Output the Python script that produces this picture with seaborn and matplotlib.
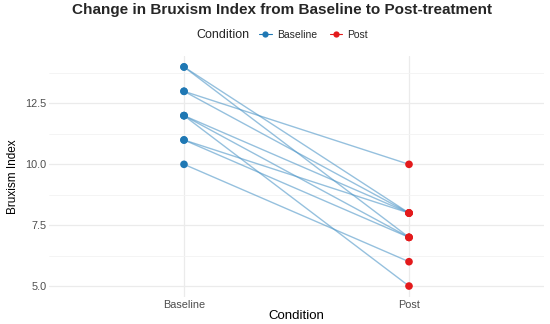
import numpy as np
import pandas as pd
import matplotlib
matplotlib.use("Agg")
import matplotlib.pyplot as plt
import seaborn as sns
from matplotlib.lines import Line2D
from matplotlib.ticker import MultipleLocator
from matplotlib.offsetbox import HPacker

conditions = ["Baseline", "Post"]
baseline = [14, 14, 13, 13, 12, 12, 12, 11, 11, 10]
post = [8, 7, 10, 8, 8, 7, 5, 8, 7, 6]
subjects = list(range(1, len(baseline) + 1))
yticks = [5.0, 7.5, 10.0, 12.5]
colors = {"Baseline": "#1f78b4", "Post": "#e31a1c"}

df = pd.DataFrame({
    "Subject": subjects * 2,
    "Condition": ["Baseline"] * len(baseline) + ["Post"] * len(post),
    "Index": baseline + post,
})

sns.set_theme(style="whitegrid")
plt.rcParams["font.family"] = ["Liberation Sans", "DejaVu Sans"]

fig = plt.figure(figsize=(5.5, 3.24), dpi=100)
ax = fig.add_axes([49/550, 27/324, (544-49)/550, (297-56)/324])

sns.lineplot(data=df, x="Condition", y="Index", units="Subject", estimator=None,
             color="#4f97c8", alpha=0.6, linewidth=1.0, ax=ax, legend=False)
sns.stripplot(data=df, x="Condition", y="Index", hue="Condition", palette=colors,
              jitter=False, size=5.5, linewidth=0, ax=ax, legend=False, zorder=3)

ax.set_xlim(-0.6, 1.6)
ax.set_ylim(4.55, 14.45)
ax.set_yticks(yticks)
ax.yaxis.set_minor_locator(MultipleLocator(1.25))
ax.set_yticklabels([f"{v:.1f}" for v in yticks])
for s in ax.spines.values():
    s.set_visible(False)
ax.grid(True, which="major", color="#ebebeb", linewidth=0.9)
ax.grid(True, which="minor", axis="y", color="#f3f3f3", linewidth=0.6)
ax.tick_params(axis="both", which="both", length=0, labelsize=7.8, labelcolor="#4d4d4d", pad=2)
ax.set_xlabel("Condition", fontsize=9.5, color="black", labelpad=0)
ax.set_ylabel("Bruxism Index", fontsize=8.5, color="black", labelpad=4)

fig.text(0.513, 0.968, "Change in Bruxism Index from Baseline to Post-treatment",
         ha="center", va="center", fontsize=11, fontweight="bold")

handles = [Line2D([0], [0], marker="o", color=colors[c], markersize=4.5, linewidth=0.8,
                  markeredgewidth=0) for c in conditions]
leg = fig.legend(handles, conditions, loc="center", bbox_to_anchor=(0.513, 0.893),
                 ncol=2, frameon=False, title="Condition", fontsize=7.5,
                 title_fontsize=9, handlelength=1.2, handletextpad=0.5, columnspacing=1.2)
title_box = leg._legend_title_box
entries = leg._legend_handle_box
leg._legend_box._children = [HPacker(children=[title_box, entries], pad=0, sep=7, align="center")]

fig.savefig("out.png", dpi=100)
